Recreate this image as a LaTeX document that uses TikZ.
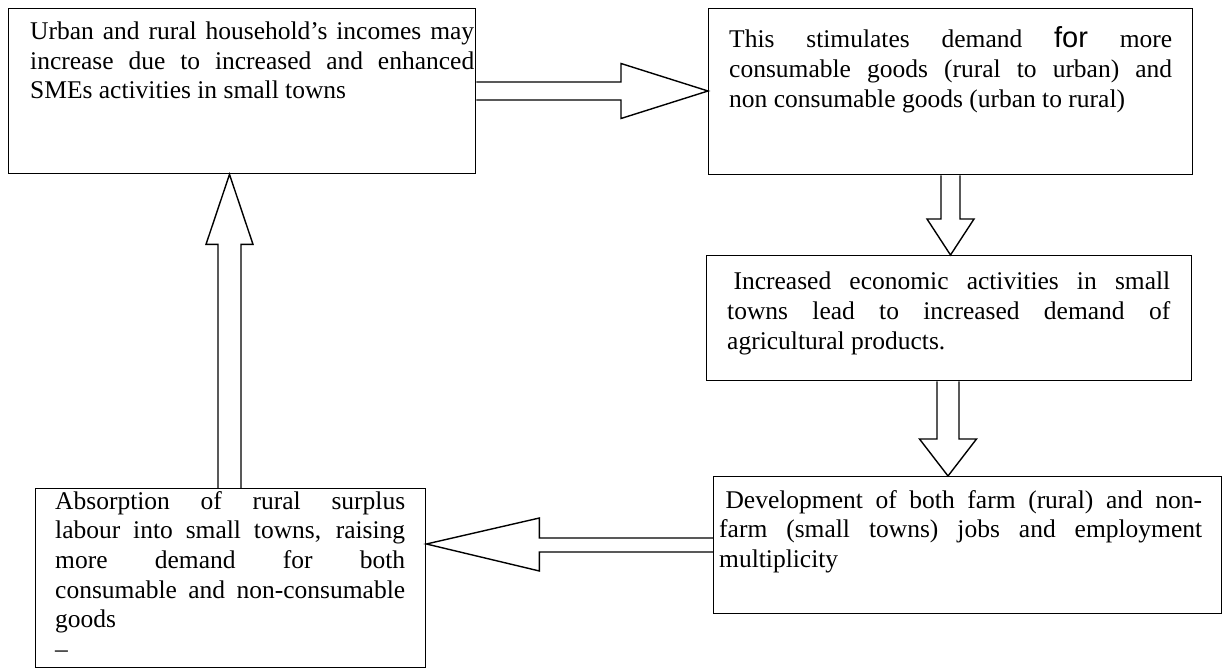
\documentclass[tikz,border=0pt]{standalone}
\usepackage{fontspec}
\setmainfont{Liberation Serif}
\newfontfamily\arialf{Liberation Sans}
\usetikzlibrary{calc}
\tikzset{
  box/.style={draw=black, line width=1.4pt, anchor=north west, inner sep=0pt},
  txt/.style={anchor=base west, inner sep=0pt, align=justify,
    font=\fontsize{25.5}{29.7}\selectfont},
  blockarrow/.style={draw=black, line width=1.4pt, line join=miter}
}
\begin{document}
\begin{tikzpicture}[x=1pt,y=-1pt]
\useasboundingbox (0,0) rectangle (1224,668);
% boxes
\node[box, minimum width=467pt, minimum height=165pt] (b1) at (8,8) {};
\node[box, minimum width=484pt, minimum height=166pt] (b2) at (708,8) {};
\node[box, minimum width=485pt, minimum height=125pt] (b3) at (706,255) {};
\node[box, minimum width=508pt, minimum height=137pt] (b4) at (713,476) {};
\node[box, minimum width=390pt, minimum height=179pt] (b5) at (35,488) {};
% texts
\node[txt, text width=444pt] (t1) at (30,39.5) {Urban and rural household's incomes may\linebreak increase due to increased and enhanced\linebreak SMEs activities in small towns};
\node[txt, text width=443pt] (t2) at (729,48) {This stimulates demand {\arialf\fontsize{29}{29.7}\selectfont for} more\linebreak consumable goods (rural to urban) and\linebreak non consumable goods (urban to rural)};
\node[txt, text width=443pt] (t3) at (727,290) {\hspace*{0.25em}Increased economic activities in small\linebreak towns lead to increased demand of\linebreak agricultural products.};
\node[txt, text width=483pt] (t4) at (719,508) {\hspace*{0.25em}Development of both farm (rural) and non-\linebreak farm (small towns) jobs and employment\linebreak multiplicity};
\node[txt, text width=350pt] (t5) at (55,509) {Absorption of rural surplus\linebreak labour into small towns, raising\linebreak more demand for both\linebreak consumable and non-consumable\linebreak goods\par --};
% arrow axes
\coordinate (a1) at (0,91);
\coordinate (a2) at (950.5,0);
\coordinate (a3) at (948,0);
\coordinate (a4) at (0,545);
\coordinate (a5) at (229.5,0);
% right arrow b1 -> b2
\coordinate (s1) at (b1.east |- a1);
\coordinate (e1) at (b2.west |- a1);
\draw[blockarrow] ($(s1)+(0,-9)$) -- ($(e1)+(-87,-9)$) -- ($(e1)+(-87,-27.5)$) -- (e1)
  -- ($(e1)+(-87,27.5)$) -- ($(e1)+(-87,9)$) -- ($(s1)+(0,9)$);
% down arrow b2 -> b3
\coordinate (s2) at (a2 |- b2.south);
\coordinate (e2) at (a2 |- b3.north);
\draw[blockarrow] ($(s2)+(-9.5,0)$) -- ($(e2)+(-9.5,-36)$) -- ($(e2)+(-23.5,-36)$) -- (e2)
  -- ($(e2)+(23.5,-36)$) -- ($(e2)+(9.5,-36)$) -- ($(s2)+(9.5,0)$);
% down arrow b3 -> b4
\coordinate (s3) at (a3 |- b3.south);
\coordinate (e3) at (a3 |- b4.north);
\draw[blockarrow] ($(s3)+(-11,0)$) -- ($(e3)+(-11,-37)$) -- ($(e3)+(-28.5,-37)$) -- (e3)
  -- ($(e3)+(28.5,-37)$) -- ($(e3)+(11,-37)$) -- ($(s3)+(11,0)$);
% left arrow b4 -> b5
\coordinate (s4) at (b4.west |- a4);
\coordinate (e4) at (b5.east |- a4);
\draw[blockarrow] ($(s4)+(0,-7)$) -- ($(e4)+(113,-7)$) -- ($(e4)+(113,-27)$) -- ($(e4)+(0,-1)$)
  -- ($(e4)+(113,26)$) -- ($(e4)+(113,7)$) -- ($(s4)+(0,7)$);
% up arrow b5 -> b1
\coordinate (s5) at (a5 |- b5.north);
\coordinate (e5) at (a5 |- b1.south);
\draw[blockarrow] ($(s5)+(-11.5,0)$) -- ($(e5)+(-11.5,70)$) -- ($(e5)+(-23.5,70)$) -- (e5)
  -- ($(e5)+(23.5,70)$) -- ($(e5)+(11.5,70)$) -- ($(s5)+(11.5,0)$);
\end{tikzpicture}
\end{document}
